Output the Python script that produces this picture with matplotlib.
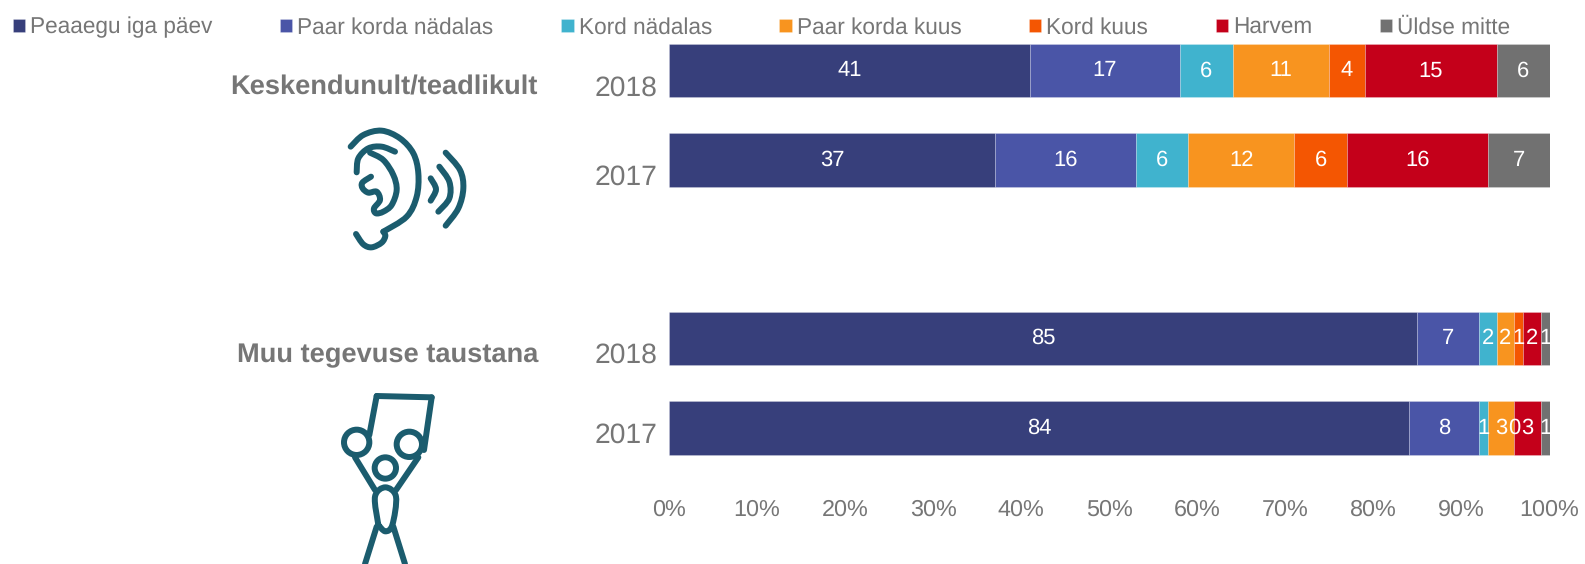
import matplotlib
matplotlib.use("Agg")
import matplotlib.pyplot as plt
from matplotlib.path import Path
from matplotlib.patches import PathPatch, Circle
from matplotlib.transforms import ScaledTranslation

plt.rcParams['font.family'] = ['Liberation Sans', 'DejaVu Sans']
plt.rcParams['text.hinting'] = 'none'

W, H = 1585, 564
GRAY = '#767676'
TEAL = '#1b5c6e'

series_names = ['Peaaegu iga päev', 'Paar korda nädalas', 'Kord nädalas', 'Paar korda kuus',
                'Kord kuus', 'Harvem', 'Üldse mitte']
colors = ['#373f7b', '#4a55a7', '#40b3ce', '#f8941f', '#f45602', '#c4001a', '#717171']
years = ['2018', '2017', '2018', '2017']
y_pos = [0, 1, 3, 4]
peaaegu = [41, 37, 85, 84]
paar_nadalas = [17, 16, 7, 8]
kord_nadalas = [6, 6, 2, 1]
paar_kuus = [11, 12, 2, 3]
kord_kuus = [4, 6, 1, 0]
harvem = [15, 16, 2, 3]
uldse = [6, 7, 1, 1]
values = [peaaegu, paar_nadalas, kord_nadalas, paar_kuus, kord_kuus, harvem, uldse]
x_ticks = list(range(0, 101, 10))
year_label_drop_px = [15, 15, 14, 5]

fig = plt.figure(figsize=(W / 100, H / 100), dpi=100, facecolor='white')

ax = fig.add_axes([669 / W, 1 - 472.5 / H, (1549.5 - 669) / W, (472.5 - 26) / H])
left = [0, 0, 0, 0]
for name, vals, col in zip(series_names, values, colors):
    bars = ax.barh(y_pos, vals, height=0.6, left=left, color=col, label=name,
                   edgecolor='#ffffff40', linewidth=0.6)
    labels = ax.bar_label(bars, labels=[str(v) for v in vals], label_type='center',
                          color='white', fontsize=15.8)
    for t in labels:
        t.set_transform(t.get_transform() + ScaledTranslation(0, -3 / 100, fig.dpi_scale_trans))
    left = [a + b for a, b in zip(left, vals)]

ax.set_xlim(0, 100)
ax.set_ylim(4.5, -0.5)
ax.set_yticks(y_pos, years)
ax.set_xticks(x_ticks, [f'{t}%' for t in x_ticks])
ax.tick_params(axis='y', length=0, labelsize=20.3, labelcolor=GRAY, pad=8)
ax.tick_params(axis='x', length=0, labelsize=16.8, labelcolor=GRAY, pad=19)
for lbl, d in zip(ax.get_yticklabels(), year_label_drop_px):
    lbl.set_transform(lbl.get_transform() + ScaledTranslation(0, -d / 100, fig.dpi_scale_trans))
for s in ax.spines.values():
    s.set_visible(False)

handles, lab = ax.get_legend_handles_labels()
leg = fig.legend(handles, lab, ncol=7, loc='upper left', bbox_to_anchor=(6 / W, 1 - 10 / H),
                 frameon=False, fontsize=16.3, labelcolor=GRAY, handlelength=0.55, handleheight=0.55,
                 handletextpad=0.22, columnspacing=2.98, borderaxespad=0, borderpad=0.3)

ov = fig.add_axes([0, 0, 1, 1], facecolor='none')
ov.set_xlim(0, W)
ov.set_ylim(H, 0)
ov.axis('off')
ov.text(538, 87, 'Keskendunult/teadlikult', ha='right', va='center', fontsize=19.6,
        fontweight='bold', color=GRAY)
ov.text(538, 355, 'Muu tegevuse taustana', ha='right', va='center', fontsize=19.6,
        fontweight='bold', color=GRAY)


def smooth(points, ox, oy, lw=4.3):
    """Stroke a curve running through the given points (crop coordinates, 3x)."""
    p = [(ox + x / 3, oy + y / 3) for x, y in points]
    verts = [p[0]]
    codes = [Path.MOVETO]
    for i in range(len(p) - 1):
        a = p[i - 1] if i > 0 else p[i]
        b, c = p[i], p[i + 1]
        d = p[i + 2] if i + 2 < len(p) else c
        verts += [(b[0] + (c[0] - a[0]) / 6, b[1] + (c[1] - a[1]) / 6),
                  (c[0] - (d[0] - b[0]) / 6, c[1] - (d[1] - b[1]) / 6), c]
        codes += [Path.CURVE4] * 3
    ov.add_patch(PathPatch(Path(verts, codes), fill=False, edgecolor=TEAL, lw=lw,
                           capstyle='round', joinstyle='round'))


ex, ey = 300, 110
smooth([(152, 110), (190, 75), (245, 62), (300, 85), (340, 130), (355, 190), (350, 260), (320, 320), (250, 365)], ex, ey)
smooth([(250, 365), (256, 378), (245, 398), (215, 412), (190, 403), (168, 372)], ex, ey)
smooth([(285, 125), (245, 110), (205, 115), (175, 145), (170, 187)], ex, ey)
smooth([(210, 128), (250, 150), (280, 195), (290, 240), (275, 285), (250, 305), (228, 310), (222, 295),
        (240, 270), (230, 245), (205, 248), (188, 235), (187, 218), (213, 200)], ex, ey)
smooth([(392, 205), (408, 238), (392, 272)], ex, ey)
smooth([(418, 170), (448, 215), (448, 265), (415, 305)], ex, ey)
smooth([(437, 128), (480, 180), (490, 235), (475, 295), (437, 347)], ex, ey)

px, py = 310, 380
smooth([(178, 165), (200, 48)], px, py)
smooth([(200, 48), (365, 52)], px, py)
smooth([(365, 52), (342, 210)], px, py)
smooth([(135, 232), (195, 330)], px, py)
smooth([(325, 232), (258, 330)], px, py)
smooth([(200, 440), (165, 552)], px, py)
smooth([(250, 440), (285, 552)], px, py)
smooth([(205, 435), (195, 350), (226, 322), (258, 350), (247, 435), (226, 454), (205, 435)], px, py)
for cx, cy, r in [(140, 187, 38), (298, 193, 38), (226, 264, 32)]:
    ov.add_patch(Circle((px + cx / 3, py + cy / 3), r / 3, fill=False, edgecolor=TEAL, lw=4.3))

fig.savefig('out.png', dpi=100, facecolor='white')
